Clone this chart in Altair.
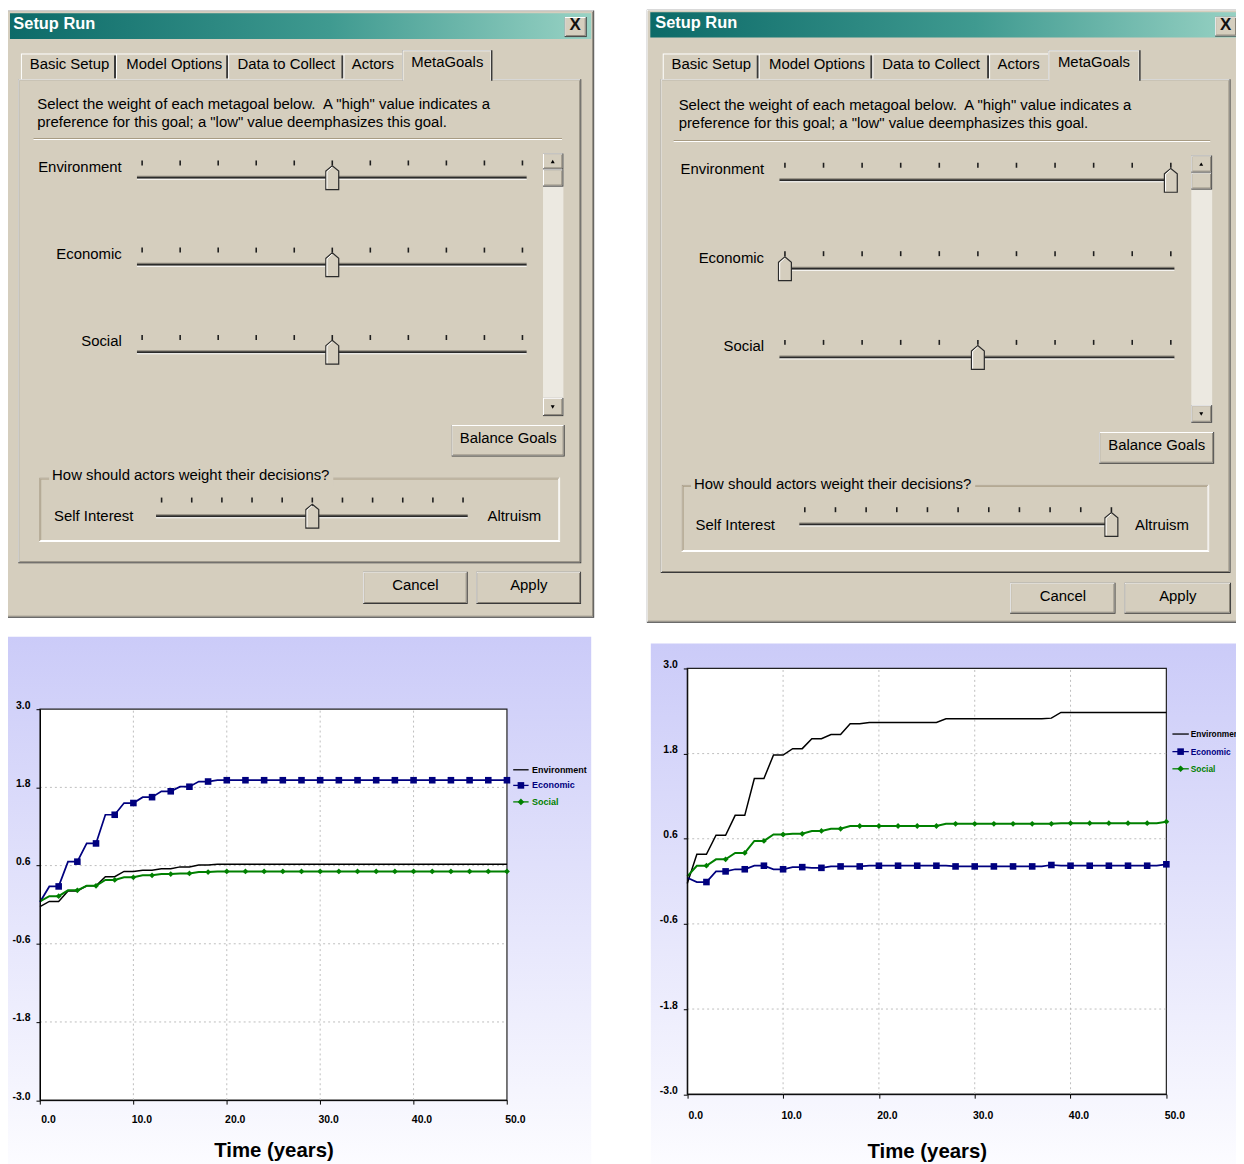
import altair as alt
import pandas as pd

# ------------------------------------------------------------------ values
years = list(range(51))

env_left = [
    -0.03, 0.05, 0.05, 0.21, 0.21, 0.29, 0.29, 0.43, 0.43, 0.51,
    0.51, 0.53, 0.53, 0.55, 0.55, 0.58, 0.58, 0.61, 0.61, 0.62,
    0.62, 0.62, 0.62, 0.62, 0.62, 0.62, 0.62, 0.62, 0.62, 0.62,
    0.62, 0.62, 0.62, 0.62, 0.62, 0.62, 0.62, 0.62, 0.62, 0.62,
    0.62, 0.62, 0.62, 0.62, 0.62, 0.62, 0.62, 0.62, 0.62, 0.62,
    0.62,
]
econ_left = [
    0.04, 0.28, 0.28, 0.66, 0.66, 0.94, 0.94, 1.38, 1.38, 1.56,
    1.56, 1.65, 1.65, 1.74, 1.74, 1.81, 1.81, 1.89, 1.89, 1.91,
    1.91, 1.91, 1.91, 1.91, 1.91, 1.91, 1.91, 1.91, 1.91, 1.91,
    1.91, 1.91, 1.91, 1.91, 1.91, 1.91, 1.91, 1.91, 1.91, 1.91,
    1.91, 1.91, 1.91, 1.91, 1.91, 1.91, 1.91, 1.91, 1.91, 1.91,
    1.91,
]
soc_left = [
    0.05, 0.13, 0.13, 0.22, 0.22, 0.29, 0.29, 0.38, 0.38, 0.42,
    0.42, 0.45, 0.45, 0.47, 0.47, 0.48, 0.48, 0.50, 0.50, 0.51,
    0.51, 0.51, 0.51, 0.51, 0.51, 0.51, 0.51, 0.51, 0.51, 0.51,
    0.51, 0.51, 0.51, 0.51, 0.51, 0.51, 0.51, 0.51, 0.51, 0.51,
    0.51, 0.51, 0.51, 0.51, 0.51, 0.51, 0.51, 0.51, 0.51, 0.51,
    0.51,
]
env_right = [
    -0.03, 0.38, 0.38, 0.65, 0.65, 0.93, 0.93, 1.45, 1.45, 1.78,
    1.78, 1.87, 1.87, 2.01, 2.01, 2.07, 2.07, 2.22, 2.22, 2.24,
    2.24, 2.24, 2.24, 2.24, 2.24, 2.24, 2.24, 2.29, 2.29, 2.29,
    2.29, 2.29, 2.29, 2.29, 2.29, 2.29, 2.29, 2.29, 2.30, 2.38,
    2.38, 2.38, 2.38, 2.38, 2.38, 2.38, 2.38, 2.38, 2.38, 2.38,
    2.38,
]
econ_right = [
    0.05, -0.01, -0.01, 0.14, 0.14, 0.17, 0.17, 0.22, 0.22, 0.17,
    0.17, 0.20, 0.20, 0.19, 0.19, 0.21, 0.21, 0.21, 0.21, 0.22,
    0.22, 0.22, 0.22, 0.22, 0.22, 0.22, 0.22, 0.22, 0.21, 0.21,
    0.21, 0.21, 0.21, 0.21, 0.21, 0.21, 0.21, 0.21, 0.23, 0.22,
    0.22, 0.22, 0.22, 0.22, 0.22, 0.22, 0.22, 0.22, 0.22, 0.22,
    0.24,
]
soc_right = [
    0.07, 0.22, 0.22, 0.31, 0.31, 0.40, 0.40, 0.57, 0.57, 0.66,
    0.66, 0.67, 0.67, 0.71, 0.71, 0.74, 0.74, 0.78, 0.78, 0.78,
    0.78, 0.78, 0.78, 0.78, 0.78, 0.78, 0.78, 0.81, 0.81, 0.81,
    0.81, 0.81, 0.81, 0.81, 0.81, 0.81, 0.81, 0.81, 0.81, 0.82,
    0.82, 0.82, 0.82, 0.82, 0.82, 0.82, 0.82, 0.82, 0.82, 0.82,
    0.84,
]

series_names = ["Environment", "Economic", "Social"]
series_colors = ["#000000", "#00007f", "#008000"]
series_widths = [1.5, 2.0, 2.0]
marker_series = ["Economic", "Social"]
marker_shapes = ["square", "diamond"]
marker_years = list(range(2, 51, 2))

x_ticks = [0, 10, 20, 30, 40, 50]
y_ticks = [-3.0, -1.8, -0.6, 0.6, 1.8, 3.0]
x_grid = [10, 20, 30, 40]
y_grid = [-1.8, -0.6, 0.6, 1.8]
x_title = "Time (years)"

metagoals = ["Environment", "Economic", "Social"]
weights_left = [5, 5, 5]
weights_right = [10, 0, 5]
altruism_left = 5
altruism_right = 10
slider_stops = list(range(11))

window_title = "Setup Run"
tab_names = ["Basic Setup", "Model Options", "Data to Collect", "Actors", "MetaGoals"]
desc_lines = ['Select the weight of each metagoal below.\u00a0 A "high" value indicates a',
              'preference for this goal; a "low" value deemphasizes this goal.']
group_question = "How should actors weight their decisions?"
left_end, right_end = "Self Interest", "Altruism"
btn_balance, btn_cancel, btn_apply = "Balance Goals", "Cancel", "Apply"

# ------------------------------------------------------------------ layout (page pixels)
W, H = 1236, 1156
OFF = 8
TXT_DY = -2.5
UI = "Liberation Sans, Arial, sans-serif"
CH = "Liberation Sans, Arial, sans-serif"
FACE = "#d5cebe"
LIGHT = "#ffffff"
DARK = "#3a3a3a"
SHADOW = "#8a8478"
ETCH = "#a89c84"


def p(v):
    return v - OFF


LEFT = dict(
    win=(5.7, 6.7, 598, 618), title=(10, 9.5, 595, 35.5), title_text=(13.4, 23), close=(568.3, 13.3, 590.5, 33.5),
    panel=(18.4, 76, 585, 563),
    tabs=[(21, 116.7), (116.7, 229.6), (229.6, 345.6), (345.6, 405)], tab_text_x=[29.9, 127, 239, 354, 414],
    sel_tab=(405, 46.7, 495.6), tab_text_y=63.3, sel_text_y=61,
    desc_x=37.5, desc_y=[103.8, 121.2], sep=(33.7, 565.6, 136),
    label_right=122.5, label_y=[166.7, 254, 341.7], track=(137.8, 530), track_y=[175, 262.7, 350.7],
    ticks=(143, 525.8), tick_dy=(-17.3, -12.3),
    scroll=(546.5, 567), scroll_y=(150.7, 166.7, 184, 396.7, 415),
    balance=(454.6, 424, 568.3, 455.7),
    group=(39.4, 476.7, 563.7, 541.7), group_label=(52.4, 477.3),
    si=(54.3, 518.3), si_track=(157, 470.7, 515.7), si_ticks=(162.6, 466), si_tick_y=(497, 502),
    alt=(490.6, 518.3),
    cancel=(365.5, 571.7, 470.7, 604), apply=(479.5, 571.7, 584.8, 604),
)
RIGHT = dict(
    win=(651, 6, 1250, 623), title=(654.5, 8.5, 1250, 34), title_text=(659.5, 22), close=(1223, 13, 1245, 33),
    panel=(665, 76, 1238.5, 573),
    tabs=[(667, 763.6), (763.6, 878), (878, 995.5), (995.5, 1055)], tab_text_x=[675.8, 774, 888, 1004, 1064.8],
    sel_tab=(1055, 46.7, 1148), tab_text_y=63, sel_text_y=61,
    desc_x=683, desc_y=[104.5, 122.5], sep=(678, 1218, 138),
    label_right=769, label_y=[169, 258, 346.7], track=(784.5, 1182), track_y=[177.7, 266.7, 356],
    ticks=(790, 1178.4), tick_dy=(-17.7, -12.7),
    scroll=(1199, 1220), scroll_y=(152.7, 170, 187, 404, 421.7),
    balance=(1106.4, 431, 1222, 463),
    group=(686, 484, 1217, 551.7), group_label=(698.5, 485.7),
    si=(700, 526.7), si_track=(804.5, 1113, 524), si_ticks=(810, 1118.6), si_tick_y=(506.7, 511.7),
    alt=(1142.4, 526.7),
    cancel=(1016.7, 582.7, 1122.7, 614), apply=(1131.8, 582.7, 1239, 614),
)

rects_a, rects_b = [], []
title_bars = []
texts_left, texts_right, texts_center, texts_title, texts_close = [], [], [], [], []
arrows = []


def add_rect(lst, x0, y0, x1, y1, fill):
    lst.append({"x": p(x0), "y": p(y0), "x2": p(x1), "y2": p(y1), "fill": fill})


def bevel(lst, x0, y0, x1, y1, face=FACE):
    add_rect(lst, x0, y0, x1, y1, DARK)
    add_rect(lst, x0, y0, x1 - 1, y1 - 1, LIGHT)
    add_rect(lst, x0 + 1, y0 + 1, x1 - 1, y1 - 1, SHADOW)
    add_rect(lst, x0 + 1, y0 + 1, x1 - 2, y1 - 2, face)


def txt(lst, x, y, s):
    lst.append({"x": p(x), "y": p(y + TXT_DY), "text": s})


def button(box, label):
    bevel(rects_b, *box)
    txt(texts_center, (box[0] + box[2]) / 2, (box[1] + box[3]) / 2, label)


def build_dialog(L):
    bevel(rects_a, *L["win"])
    title_bars.append({"x": p(L["title"][0]), "y": p(L["title"][1]),
                       "x2": p(L["title"][2]), "y2": p(L["title"][3])})
    txt(texts_title, L["title_text"][0], L["title_text"][1], window_title)
    cb = L["close"]
    bevel(rects_b, *cb)
    txt(texts_close, (cb[0] + cb[2]) / 2 - 0.5, (cb[1] + cb[3]) / 2 + 0.5, "X")
    # tab panel
    bevel(rects_b, *L["panel"])
    for i, (a, b) in enumerate(L["tabs"]):
        add_rect(rects_b, a, 50, b, 76, LIGHT)
        add_rect(rects_b, a + 1, 51, b, 76, FACE)
        if i < len(L["tabs"]) - 1:
            add_rect(rects_b, b - 2, 52, b, 75, DARK)
    s0, st, s1 = L["sel_tab"]
    add_rect(rects_b, s0, st, s1, 77.5, DARK)
    add_rect(rects_b, s0, st, s1 - 1.5, 77.5, LIGHT)
    add_rect(rects_b, s0 + 1, st + 1, s1 - 2, 78, FACE)
    for i, name in enumerate(tab_names):
        y = L["sel_text_y"] if i == len(tab_names) - 1 else L["tab_text_y"]
        txt(texts_left, L["tab_text_x"][i], y, name)
    for line, y in zip(desc_lines, L["desc_y"]):
        txt(texts_left, L["desc_x"], y, line)
    sx0, sx1, sy = L["sep"]
    add_rect(rects_b, sx0, sy - 1, sx1, sy, ETCH)
    add_rect(rects_b, sx0, sy, sx1, sy + 1, LIGHT)
    # metagoal tracks
    for name, ly, ty in zip(metagoals, L["label_y"], L["track_y"]):
        txt(texts_right, L["label_right"], ly, name)
        a, b = L["track"]
        add_rect(rects_b, a, ty - 2, b, ty - 1, SHADOW)
        add_rect(rects_b, a, ty - 1, b, ty + 1, "#2a2a2a")
        add_rect(rects_b, a, ty + 1, b, ty + 2, LIGHT)
    # scrollbar
    x0, x1 = L["scroll"]
    y0, y1, y2, y3, y4 = L["scroll_y"]
    add_rect(rects_b, x0, y0, x1, y4, "#ece9e1")
    bevel(rects_b, x0, y0, x1, y1)
    bevel(rects_b, x0, y1, x1, y2)
    bevel(rects_b, x0, y3, x1, y4)
    arrows.append({"x": p((x0 + x1) / 2 - 0.5), "y": p((y0 + y1) / 2), "shape": "triangle-up"})
    arrows.append({"x": p((x0 + x1) / 2 - 0.5), "y": p((y3 + y4) / 2), "shape": "triangle-down"})
    button(L["balance"], btn_balance)
    # group box
    g0, g1, g2, g3 = L["group"]
    add_rect(rects_b, g0, g1, g2, g3, LIGHT)
    add_rect(rects_b, g0, g1, g2 - 1, g3 - 1, ETCH)
    add_rect(rects_b, g0 + 1, g1 + 1, g2 - 1, g3 - 1, LIGHT)
    add_rect(rects_b, g0 + 1, g1 + 1, g2 - 2, g3 - 2, ETCH)
    add_rect(rects_b, g0 + 2, g1 + 2, g2 - 2, g3 - 2, FACE)
    gx, gy = L["group_label"]
    add_rect(rects_b, gx - 3, gy - 8, gx + 283, gy + 8, FACE)
    txt(texts_left, gx, gy, group_question)
    txt(texts_left, L["si"][0], L["si"][1], left_end)
    txt(texts_left, L["alt"][0], L["alt"][1], right_end)
    a, b, ty = L["si_track"]
    add_rect(rects_b, a, ty - 2, b, ty - 1, SHADOW)
    add_rect(rects_b, a, ty - 1, b, ty + 1, "#2a2a2a")
    add_rect(rects_b, a, ty + 1, b, ty + 2, LIGHT)
    button(L["cancel"], btn_cancel)
    button(L["apply"], btn_apply)


build_dialog(LEFT)
build_dialog(RIGHT)

chart_bgs = [
    {"x": p(6), "y": p(637), "x2": p(595), "y2": p(1170)},
    {"x": p(655), "y": p(644), "x2": p(1250), "y2": p(1170)},
]


def pos_x(f):
    return alt.X(f, type="quantitative", scale=None)


def pos_y(f):
    return alt.Y(f, type="quantitative", scale=None)


rect_enc = dict(x=pos_x("x"), x2="x2:Q", y=pos_y("y"), y2="y2:Q",
                fill=alt.Fill("fill:N", scale=None))

layer_rects_a = alt.Chart(pd.DataFrame(rects_a)).mark_rect().encode(**rect_enc)
layer_rects_b = alt.Chart(pd.DataFrame(rects_b)).mark_rect().encode(**rect_enc)

title_grad = {"gradient": "linear", "x1": 0, "y1": 0, "x2": 1, "y2": 0,
              "stops": [{"offset": 0, "color": "#0c6a68"},
                        {"offset": 0.55, "color": "#3f9a90"},
                        {"offset": 1, "color": "#98d2c4"}]}
bg_grad = {"gradient": "linear", "x1": 0, "y1": 0, "x2": 0, "y2": 1,
           "stops": [{"offset": 0, "color": "#cbcbf8"},
                     {"offset": 1, "color": "#fcfcff"}]}
grad_enc = dict(x=pos_x("x"), x2="x2:Q", y=pos_y("y"), y2="y2:Q")
layer_titles = alt.Chart(pd.DataFrame(title_bars)).mark_rect(fill=title_grad).encode(**grad_enc)
layer_bgs = alt.Chart(pd.DataFrame(chart_bgs)).mark_rect(fill=bg_grad).encode(**grad_enc)

layer_arrows = alt.Chart(pd.DataFrame(arrows)).mark_point(filled=True, size=16, color="black", opacity=1).encode(
    x=pos_x("x"), y=pos_y("y"), shape=alt.Shape("shape:N", scale=None))

text_enc = dict(x=pos_x("x"), y=pos_y("y"), text="text:N")
layer_t_left = alt.Chart(pd.DataFrame(texts_left)).mark_text(
    align="left", baseline="middle", font=UI, fontSize=15, color="black").encode(**text_enc)
layer_t_right = alt.Chart(pd.DataFrame(texts_right)).mark_text(
    align="right", baseline="middle", font=UI, fontSize=15, color="black").encode(**text_enc)
layer_t_center = alt.Chart(pd.DataFrame(texts_center)).mark_text(
    align="center", baseline="middle", font=UI, fontSize=15, color="black").encode(**text_enc)
layer_t_title = alt.Chart(pd.DataFrame(texts_title)).mark_text(
    align="left", baseline="middle", font=UI, fontSize=16.5, fontWeight="bold", color="white").encode(**text_enc)
layer_t_close = alt.Chart(pd.DataFrame(texts_close)).mark_text(
    align="center", baseline="middle", font=UI, fontSize=17, fontWeight="bold", color="#111111").encode(**text_enc)

# ------------------------------------------------------------------ sliders (through their own scales)
THUMB = "M-0.54,1 L0.54,1 L0.54,-0.55 L0,-1 L-0.54,-0.55 Z"
THUMB_HL = "M-0.44,0.92 L-0.44,-0.5 L-0.02,-0.88"


def slider_group(values, track_ys, tick_dy, rng):
    sx = alt.Scale(domain=[0, 10], range=[p(rng[0]), p(rng[1])], nice=False, zero=False)
    stops_rows, thumb_rows = [], []
    for v, ty in zip(values, track_ys):
        thumb_rows.append({"value": v, "y": p(ty)})
        for s in slider_stops:
            stops_rows.append({"stop": s, "y0": p(ty + tick_dy[0]), "y1": p(ty + tick_dy[1])})
    ticks = alt.Chart(pd.DataFrame(stops_rows)).mark_rule(color="#1e1e1e", strokeWidth=1.6).encode(
        x=alt.X("stop:Q", scale=sx, axis=None), y=pos_y("y0"), y2="y1:Q")
    thumb = alt.Chart(pd.DataFrame(thumb_rows)).mark_point(
        shape=THUMB, filled=True, size=576, fill=FACE, stroke="#2b2b2b", strokeWidth=1.2, opacity=1).encode(
        x=alt.X("value:Q", scale=sx, axis=None), y=pos_y("y"))
    hl = alt.Chart(pd.DataFrame(thumb_rows)).mark_point(
        shape=THUMB_HL, filled=False, size=576, stroke="white", strokeWidth=1, opacity=1).encode(
        x=alt.X("value:Q", scale=sx, axis=None), y=pos_y("y"))
    return alt.layer(ticks, thumb, hl)


sl_goal_left = slider_group(weights_left, LEFT["track_y"], LEFT["tick_dy"], LEFT["ticks"])
sl_goal_right = slider_group(weights_right, RIGHT["track_y"], RIGHT["tick_dy"], RIGHT["ticks"])
sl_alt_left = slider_group([altruism_left], [LEFT["si_track"][2]],
                           (LEFT["si_tick_y"][0] - LEFT["si_track"][2], LEFT["si_tick_y"][1] - LEFT["si_track"][2]),
                           LEFT["si_ticks"])
sl_alt_right = slider_group([altruism_right], [RIGHT["si_track"][2]],
                            (RIGHT["si_tick_y"][0] - RIGHT["si_track"][2], RIGHT["si_tick_y"][1] - RIGHT["si_track"][2]),
                            RIGHT["si_ticks"])

# ------------------------------------------------------------------ line charts
color_enc = alt.Color("series:N", scale=alt.Scale(domain=series_names, range=series_colors), legend=None)
shape_enc = alt.Shape("series:N", scale=alt.Scale(domain=marker_series, range=marker_shapes), legend=None)
width_enc = alt.StrokeWidth("series:N", scale=alt.Scale(domain=series_names, range=series_widths), legend=None)

MINUS_FMT = "datum.value < 0 ? '-' + format(-datum.value, '.1f') : format(datum.value, '.1f')"


def line_chart(env, econ, soc, plot_x, plot_y, lab_pad, title_pad):
    x0, x1 = p(plot_x[0]), p(plot_x[1])
    ytop, ybot = p(plot_y[0]), p(plot_y[1])
    xs = alt.Scale(domain=[0, 50], range=[x0, x1], nice=False, zero=False)
    ys = alt.Scale(domain=[-3, 3], range=[ybot, ytop], nice=False, zero=False)
    xax = alt.Axis(orient="bottom", offset=ybot - H, values=x_ticks, labelExpr=MINUS_FMT,
                   labelFont=CH, labelFontSize=10.5, labelFontWeight="bold", labelColor="black",
                   labelOffset=8, labelPadding=lab_pad, labelFlush=False, labelOverlap=False,
                   tickSize=4, tickColor="black", domainColor="black", grid=False,
                   title=x_title, titleFont=CH, titleFontSize=20.5, titleFontWeight="bold",
                   titleColor="black", titlePadding=title_pad, zindex=2)
    yax = alt.Axis(orient="left", offset=-x0, values=y_ticks, labelExpr=MINUS_FMT,
                   labelFont=CH, labelFontSize=10.5, labelFontWeight="bold", labelColor="black",
                   labelOffset=-4, labelPadding=6, labelFlush=False, labelOverlap=False,
                   tickSize=4, tickColor="black", domainColor="black", grid=False, title=None, zindex=2)

    def X(f):
        return alt.X(f, type="quantitative", scale=xs, axis=xax)

    def Y(f):
        return alt.Y(f, type="quantitative", scale=ys, axis=yax)

    frame = alt.Chart(pd.DataFrame({"t0": [0], "t1": [50], "v0": [-3.0], "v1": [3.0]})).mark_rect(
        fill="white", stroke="#222222", strokeWidth=1.2).encode(x=X("t0"), x2="t1:Q", y=Y("v0"), y2="v1:Q")
    vgrid = alt.Chart(pd.DataFrame({"t": x_grid, "lo": [-3.0] * 4, "hi": [3.0] * 4})).mark_rule(
        color="#bdbdbd", strokeDash=[2, 3], strokeWidth=1).encode(x=X("t"), y=Y("lo"), y2="hi:Q")
    hgrid = alt.Chart(pd.DataFrame({"v": y_grid, "a": [0] * 4, "b": [50] * 4})).mark_rule(
        color="#bdbdbd", strokeDash=[2, 3], strokeWidth=1).encode(y=Y("v"), x=X("a"), x2="b:Q")
    rows = []
    for name, vals in zip(series_names, [env, econ, soc]):
        for t, v in zip(years, vals):
            rows.append({"t": t, "v": v, "series": name})
    df = pd.DataFrame(rows)
    lines = alt.Chart(df).mark_line(interpolate="linear").encode(
        x=X("t"), y=Y("v"), color=color_enc, strokeWidth=width_enc, detail="series:N")
    sq = alt.Chart(df[(df["series"] == "Economic") & df["t"].isin(marker_years)]).mark_point(
        filled=True, size=44, opacity=1).encode(x=X("t"), y=Y("v"), color=color_enc, shape=shape_enc)
    dm = alt.Chart(df[(df["series"] == "Social") & df["t"].isin(marker_years)]).mark_point(
        filled=True, size=34, opacity=1).encode(x=X("t"), y=Y("v"), color=color_enc, shape=shape_enc)
    return alt.layer(frame, vgrid, hgrid, lines, sq, dm)


chart_left = line_chart(env_left, econ_left, soc_left, (40.2, 510.2), (710, 1103.5), 10, 16.5)
chart_right = line_chart(env_right, econ_right, soc_right, (691.7, 1173.9), (669, 1097.5), 12, 21)

# hand-drawn legends beside each plot (colours through the shared colour scale)
legend_rows = []
for (lx0, lx1, ltx, lys, fs) in [(516.5, 532, 535.5, [771, 786.7, 803.3], 9),
                                 (1180, 1196.5, 1198.5, [735, 752.7, 770], 8.4)]:
    for name, ly in zip(series_names, lys):
        legend_rows.append({"series": name, "x0": p(lx0), "x1": p(lx1), "xm": p((lx0 + lx1) / 2),
                            "xt": p(ltx), "y": p(ly), "fs": fs})
legend_df = pd.DataFrame(legend_rows)
leg_lines = alt.Chart(legend_df).mark_rule(strokeWidth=1.3).encode(
    x=pos_x("x0"), x2="x1:Q", y=pos_y("y"), color=color_enc)
leg_marks = alt.Chart(legend_df[legend_df["series"].isin(marker_series)]).mark_point(
    filled=True, size=44, opacity=1).encode(x=pos_x("xm"), y=pos_y("y"), color=color_enc, shape=shape_enc)
leg_text = alt.Chart(legend_df).mark_text(
    align="left", baseline="middle", font=CH, fontWeight="bold").encode(
    x=pos_x("xt"), y=pos_y("y"), text="series:N", color=color_enc,
    size=alt.Size("fs:Q", scale=None))

chart = alt.layer(
    layer_rects_a, layer_titles, layer_bgs, layer_rects_b, layer_arrows,
    layer_t_left, layer_t_right, layer_t_center, layer_t_title, layer_t_close,
    sl_goal_left, sl_goal_right, sl_alt_left, sl_alt_right,
    chart_left, chart_right,
    leg_lines, leg_marks, leg_text,
).resolve_scale(x="independent", y="independent").properties(
    width=W, height=H, autosize=alt.AutoSizeParams(type="none"), padding=0, background="white"
).configure_view(stroke=None)

chart.save("out.html", embed_options={"renderer": "svg", "actions": False})
